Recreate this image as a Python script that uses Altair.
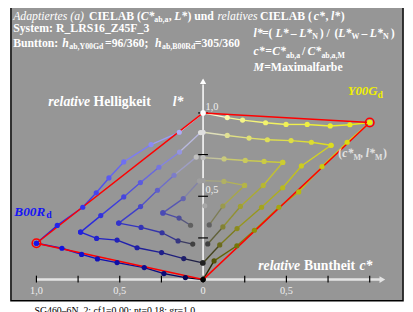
import altair as alt
import pandas as pd

# ---------------- data: relative chroma c* (B00Rd side plotted negative), relative lightness l* -------------
Y_K0_TOP_C = [0.0, 0.145, 0.237, 0.375, 0.498, 0.625, 0.763, 0.881, 1.0]
Y_K0_TOP_L = [1.0, 0.972, 0.957, 0.941, 0.931, 0.931, 0.922, 0.929, 0.943]
Y_K0_BOT_C = [1.0, 0.865, 0.714, 0.574, 0.455, 0.308, 0.203, 0.066, 0.0]
Y_K0_BOT_L = [0.943, 0.824, 0.678, 0.526, 0.434, 0.296, 0.203, 0.112, 0.0]
Y_K1_TOP_C = [0.0, 0.145, 0.276, 0.386, 0.528, 0.65, 0.768]
Y_K1_TOP_L = [0.884, 0.865, 0.849, 0.839, 0.834, 0.824, 0.806]
Y_K1_BOT_C = [0.768, 0.59, 0.478, 0.351, 0.204, 0.1, 0.0]
Y_K1_BOT_L = [0.806, 0.682, 0.551, 0.434, 0.306, 0.208, 0.1]
Y_K2_TOP_C = [0.0, 0.126, 0.253, 0.366, 0.478]
Y_K2_TOP_L = [0.732, 0.724, 0.715, 0.709, 0.703]
Y_K2_BOT_C = [0.478, 0.361, 0.224, 0.119, 0.028]
Y_K2_BOT_L = [0.703, 0.565, 0.439, 0.316, 0.214]
Y_K3_TOP_C = [0.0, 0.125, 0.249]
Y_K3_TOP_L = [0.594, 0.589, 0.565]
Y_K3_BOT_C = [0.249, 0.119, 0.037]
Y_K3_BOT_L = [0.565, 0.441, 0.328]

B_K0_TOP_C = [0.0, -0.143, -0.312, -0.476, -0.565, -0.641, -0.722, -0.875, -1.0]
B_K0_TOP_L = [1.0, 0.884, 0.81, 0.706, 0.61, 0.521, 0.434, 0.325, 0.218]
B_K0_BOT_C = [-1.0, -0.847, -0.729, -0.634, -0.516, -0.353, -0.235, -0.106, 0.0]
B_K0_BOT_L = [0.218, 0.188, 0.151, 0.124, 0.102, 0.072, 0.036, 0.012, 0.0]
B_K1_TOP_C = [-0.015, -0.141, -0.265, -0.376, -0.476, -0.614, -0.735]
B_K1_TOP_L = [0.882, 0.765, 0.674, 0.582, 0.496, 0.384, 0.285]
B_K1_BOT_C = [-0.735, -0.639, -0.516, -0.396, -0.249, -0.116, -0.003]
B_K1_BOT_L = [0.285, 0.247, 0.237, 0.191, 0.162, 0.126, 0.1]
B_K2_TOP_C = [-0.041, -0.174, -0.274, -0.375, -0.506]
B_K2_TOP_L = [0.735, 0.626, 0.536, 0.438, 0.339]
B_K2_BOT_C = [-0.506, -0.372, -0.246, -0.15, -0.062]
B_K2_BOT_L = [0.339, 0.313, 0.281, 0.232, 0.213]
B_K3_TOP_C = [-0.022, -0.119, -0.241]
B_K3_TOP_L = [0.592, 0.486, 0.4]
B_K3_BOT_C = [-0.241, -0.144, -0.075]
B_K3_BOT_L = [0.4, 0.369, 0.326]

MID_C = [0.01]
MID_L = [0.443]

Y_MAX_RGB = (235, 235, 15)
B_MAX_RGB = (20, 20, 235)

X_TICKS = [-1.0, -0.75, -0.5, -0.25, 0.0, 0.25, 0.5, 0.75, 1.0]
X_LABEL_POS = [-1.0, -0.5, 0.0, 0.5]
X_LABELS = ["1,0", "0,5", "0", "0,5"]
Y_TICKS = [0.25, 0.5, 0.75, 1.0]
Y_LABEL_POS = [1.0, 0.5]
Y_LABELS = ["1,0", "0,5"]

# ---------------- geometry helpers (page pixels -> data units) ----------------
ORIGIN_X, ORIGIN_Y, UNIT = 207.0, 282.0, 170.0


def cx(px):
    return (px - ORIGIN_X) / UNIT


def ly(py):
    return (ORIGIN_Y - py) / UNIT


XS = alt.Scale(domain=[cx(8), cx(413)], nice=False, zero=False)
YS = alt.Scale(domain=[ly(312), ly(8)], nice=False, zero=False)
X = lambda f: alt.X(f, type="quantitative", scale=XS, axis=None)
Y = lambda f: alt.Y(f, type="quantitative", scale=YS, axis=None)


def mix(w, c, n, m):
    ce = c ** 0.5 if c > 0 else 0.0
    rest = 1.0 - ce
    if w + n > 0:
        w2 = w / (w + n) * rest
    else:
        w2 = 0.0
    return tuple(int(round(w2 * 255 + ce * mm)) for mm in m)


def hexc(rgb):
    return "#%02x%02x%02x" % rgb


ARMS = [
    (Y_K0_TOP_C, Y_K0_TOP_L, Y_MAX_RGB, 0, "top"), (Y_K0_BOT_C, Y_K0_BOT_L, Y_MAX_RGB, 0, "bot"),
    (Y_K1_TOP_C, Y_K1_TOP_L, Y_MAX_RGB, 1, "top"), (Y_K1_BOT_C, Y_K1_BOT_L, Y_MAX_RGB, 1, "bot"),
    (Y_K2_TOP_C, Y_K2_TOP_L, Y_MAX_RGB, 2, "top"), (Y_K2_BOT_C, Y_K2_BOT_L, Y_MAX_RGB, 2, "bot"),
    (Y_K3_TOP_C, Y_K3_TOP_L, Y_MAX_RGB, 3, "top"), (Y_K3_BOT_C, Y_K3_BOT_L, Y_MAX_RGB, 3, "bot"),
    (B_K0_TOP_C, B_K0_TOP_L, B_MAX_RGB, 0, "top"), (B_K0_BOT_C, B_K0_BOT_L, B_MAX_RGB, 0, "bot"),
    (B_K1_TOP_C, B_K1_TOP_L, B_MAX_RGB, 1, "top"), (B_K1_BOT_C, B_K1_BOT_L, B_MAX_RGB, 1, "bot"),
    (B_K2_TOP_C, B_K2_TOP_L, B_MAX_RGB, 2, "top"), (B_K2_BOT_C, B_K2_BOT_L, B_MAX_RGB, 2, "bot"),
    (B_K3_TOP_C, B_K3_TOP_L, B_MAX_RGB, 3, "top"), (B_K3_BOT_C, B_K3_BOT_L, B_MAX_RGB, 3, "bot"),
]

pts, segs = [], []
for cs, ls, m, k, part in ARMS:
    cols = []
    for j in range(len(cs)):
        if part == "top":
            n = k / 8
            c = j / 8
            w = 1 - n - c
        else:
            w = k / 8
            c = (8 - 2 * k - j) / 8
            n = 1 - w - c
        cols.append(mix(max(w, 0), max(c, 0), max(n, 0), m))
    for j in range(len(cs)):
        pts.append({"c": cs[j], "l": ls[j], "col": hexc(cols[j])})
    for j in range(len(cs) - 1):
        mid = tuple((a + b) // 2 for a, b in zip(cols[j], cols[j + 1]))
        segs.append({"c": cs[j], "l": ls[j], "c2": cs[j + 1], "l2": ls[j + 1], "col": hexc(mid)})
for c, l in zip(MID_C, MID_L):
    pts.append({"c": c, "l": l, "col": "#a8a8a8"})
pts_df = pd.DataFrame(pts)
segs_df = pd.DataFrame(segs)

W = (Y_K0_TOP_C[0], Y_K0_TOP_L[0])
N = (Y_K0_BOT_C[-1], Y_K0_BOT_L[-1])
YM = (Y_K0_TOP_C[-1], Y_K0_TOP_L[-1])
BM = (B_K0_TOP_C[-1], B_K0_TOP_L[-1])
red_df = pd.DataFrame([
    {"c": W[0], "l": W[1], "c2": YM[0], "l2": YM[1]},
    {"c": YM[0], "l": YM[1], "c2": N[0], "l2": N[1]},
    {"c": W[0], "l": W[1], "c2": BM[0], "l2": BM[1]},
    {"c": BM[0], "l": BM[1], "c2": N[0], "l2": N[1]},
])
max_df = pd.DataFrame([{"c": YM[0], "l": YM[1]}, {"c": BM[0], "l": BM[1]}])

# ---------------- layers ----------------
bg = alt.Chart(pd.DataFrame({"a": [0]})).mark_rect(
    fill="#969696", stroke="#000000", strokeWidth=1.5
).encode(x=alt.value(3), x2=alt.value(403), y=alt.value(-6), y2=alt.value(295.5))

haxis = alt.Chart(pd.DataFrame({"c": [-1.0], "c2": [1.07], "l": [0.0]})).mark_rule(
    color="#e4e4e4", strokeWidth=2.5
).encode(x=X("c"), x2="c2", y=Y("l"))
vaxis = alt.Chart(pd.DataFrame({"c": [0.0], "l": [0.0], "l2": [1.17]})).mark_rule(
    color="#ffffff", strokeWidth=1.5
).encode(x=X("c"), y=Y("l"), y2="l2")
harrow = alt.Chart(pd.DataFrame({"c": [1.076], "l": [0.0]})).mark_point(
    shape="triangle-right", filled=True, size=45, color="#e4e4e4", opacity=1
).encode(x=X("c"), y=Y("l"))
varrow = alt.Chart(pd.DataFrame({"c": [0.0], "l": [1.19]})).mark_point(
    shape="triangle-up", filled=True, size=40, color="#ffffff", opacity=1
).encode(x=X("c"), y=Y("l"))
xticks = alt.Chart(pd.DataFrame({"c": X_TICKS, "l": [ly(281.5)] * len(X_TICKS)})).mark_tick(
    orient="vertical", size=7, thickness=1.2, color="#000000", opacity=1
).encode(x=X("c"), y=Y("l"))
yticks = alt.Chart(pd.DataFrame({"c": [0.0] * len(Y_TICKS), "l": Y_TICKS})).mark_tick(
    orient="horizontal", size=10, thickness=1.2, color="#000000", opacity=1
).encode(x=X("c"), y=Y("l"))

xlabels = alt.Chart(pd.DataFrame({"c": X_LABEL_POS, "t": X_LABELS, "l": [ly(296.5)] * 4})).mark_text(
    font="Liberation Serif", fontSize=10.5, color="#eeeeee", align="center", baseline="alphabetic"
).encode(x=X("c"), y=Y("l"), text="t:N")
ylabels = alt.Chart(pd.DataFrame({"c": [cx(209.5)] * 2, "t": Y_LABELS,
                                  "l": [ly(108.5), ly(193.5)]})).mark_text(
    font="Liberation Serif", fontSize=10.5, color="#eeeeee", align="left", baseline="alphabetic"
).encode(x=X("c"), y=Y("l"), text="t:N")

segments = alt.Chart(segs_df).mark_rule(strokeWidth=1.4).encode(
    x=X("c"), x2="c2", y=Y("l"), y2="l2", color=alt.Color("col:N", scale=None)
)
redlines = alt.Chart(red_df).mark_rule(strokeWidth=1.5, color="#ff0000").encode(
    x=X("c"), x2="c2", y=Y("l"), y2="l2"
)
points = alt.Chart(pts_df).mark_circle(size=28, opacity=1).encode(
    x=X("c"), y=Y("l"), color=alt.Color("col:N", scale=None)
)
circles = alt.Chart(max_df).mark_point(
    shape="circle", filled=False, size=75, strokeWidth=1.6, color="#ff0000", opacity=1
).encode(x=X("c"), y=Y("l"))

# ---------------- text pieces (page px x, baseline y) ----------------
WHITE = "#ffffff"
S_I = (12, "normal", "italic", WHITE)
S_B = (12, "bold", "normal", WHITE)
S_BI = (12, "bold", "italic", WHITE)
S_SUB = (8, "bold", "normal", WHITE)
L_BI = (14, "bold", "italic", WHITE)
L_B = (14, "bold", "normal", WHITE)
YEL = (13, "bold", "italic", "#f0f000")
YEL_S = (10, "bold", "normal", "#f0f000")
BLU = (13.5, "bold", "italic", "#1414f5")
BLU_S = (10, "bold", "normal", "#1414f5")
CM = (12, "bold", "italic", "#e2e2e2")
CM_N = (12, "bold", "normal", "#e2e2e2")
CM_S = (8, "bold", "normal", "#e2e2e2")
CAP = (10, "normal", "normal", "#000000")

TEXTS = [
    ("Adaptiertes (a)", 13.3, 16.7, S_I), ("CIELAB (", 90.7, 16.7, S_B), ("C*", 143.3, 16.7, S_BI),
    ("ab,a", 157.3, 19.5, S_SUB), (",", 172, 16.7, S_B), ("L*", 177.5, 16.7, S_BI),
    (") und", 191, 16.7, S_B), ("relatives", 221.7, 16.7, S_I), ("CIELAB (", 265, 16.7, S_B),
    ("c*", 320, 16.7, S_BI), (",", 332, 16.7, S_B), ("l*", 337.5, 16.7, S_BI), (")", 347.5, 16.7, S_B),
    ("System: R_LRS16_Z45F_3", 13.3, 29.5, S_B),
    ("Buntton:", 13.3, 44.3, S_B), ("h", 63.3, 44.3, S_BI), ("ab,Y00Gd", 70.5, 47, S_SUB),
    ("=96/360;", 107, 44.3, S_B), ("h", 158, 44.3, S_BI), ("ab,B00Rd", 165.2, 47, S_SUB),
    ("=305/360", 198.5, 44.3, S_B),
    ("l*", 258.5, 34.3, S_BI), ("=(", 267, 34.3, S_B), ("L*", 281, 34.3, S_BI), ("\u2013", 296.5, 34.3, S_B),
    ("L*", 305, 34.3, S_BI), ("N", 318.5, 37, S_SUB), (")", 326, 34.3, S_B), ("/", 333, 34.3, S_B),
    ("(", 341, 34.3, S_B), ("L*", 345, 34.3, S_BI), ("W", 358.5, 37, S_SUB), ("\u2013", 368.5, 34.3, S_B),
    ("L*", 377, 34.3, S_BI), ("N", 390.5, 37, S_SUB), (")", 398.5, 34.3, S_B),
    ("c*", 258.5, 53.3, S_BI), ("=", 270.5, 53.3, S_B), ("C*", 277.5, 53.3, S_BI), ("ab,a", 291.7, 56, S_SUB),
    ("/", 308, 53.3, S_B), ("C*", 313.5, 53.3, S_BI), ("ab,a,M", 327.7, 56, S_SUB),
    ("M", 258.5, 69.3, S_BI), ("=Maximalfarbe", 269.3, 69.3, S_B),
    ("Y00G", 354.5, 94, YEL), ("d", 385, 97, YEL_S),
    ("B00R", 14.5, 216.7, BLU), ("d", 47, 219.5, BLU_S),
    ("relative", 49, 105, L_BI), ("Helligkeit", 95.3, 105, L_B), ("l*", 176, 105, L_BI),
    ("relative", 263.3, 272.7, L_BI), ("Buntheit", 310, 272.7, L_B), ("c*", 366.5, 272.7, L_BI),
    ("(", 345, 157.3, CM_N), ("c*", 349, 157.3, CM), ("M", 360.5, 160, CM_S), (",", 367, 157.3, CM_N),
    ("l*", 373, 157.3, CM), ("M", 382.5, 160, CM_S), (")", 390.5, 157.3, CM_N),
    ("SG460\u20136N_2; cf1=0.00; nt=0.18; gr=1.0", 35, 317.5, CAP),
]

styles = {}
for t, px, py, st in TEXTS:
    styles.setdefault(st, []).append({"t": t, "c": cx(px), "l": ly(py)})

text_layers = []
for (fs, fw, fst, col), rows in styles.items():
    text_layers.append(
        alt.Chart(pd.DataFrame(rows)).mark_text(
            font="Liberation Serif", fontSize=fs, fontWeight=fw, fontStyle=fst, color=col,
            align="left", baseline="alphabetic"
        ).encode(x=X("c"), y=Y("l"), text="t:N")
    )

chart = alt.layer(
    bg, haxis, vaxis, harrow, varrow, xticks, yticks, segments, redlines, points, circles,
    xlabels, ylabels, *text_layers
).properties(
    width=405, height=304, autosize=alt.AutoSizeParams(type="none"), padding=0, background="#ffffff"
).configure_view(stroke=None)

chart.save("out.html", embed_options={"renderer": "svg", "actions": False})
